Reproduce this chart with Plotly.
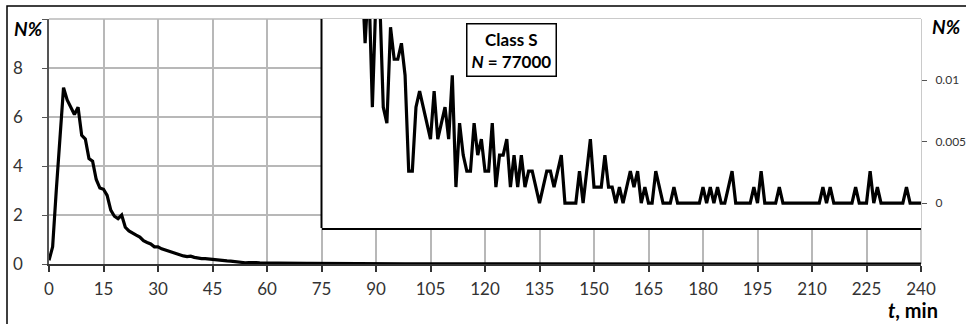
import plotly.graph_objects as go

# Share of the class-S population (N = 77000) registered per minute.
TOTAL = 77000

# First 75 minutes, in percent
minutes_early = list(range(0, 75))
share_early = [
    0.15, 0.7, 3.0, 5.1, 7.2, 6.7, 6.4, 6.1, 6.4, 5.25,
    5.1, 4.3, 4.2, 3.45, 3.1, 3.05, 2.8, 2.2, 1.95, 1.85,
    2.0, 1.5, 1.35, 1.25, 1.18, 1.1, 0.95, 0.88, 0.82, 0.7,
    0.7, 0.62, 0.57, 0.5, 0.48, 0.42, 0.36, 0.33, 0.3, 0.32,
    0.27, 0.24, 0.22, 0.22, 0.2, 0.2, 0.17, 0.14, 0.15, 0.13,
    0.12, 0.1, 0.09, 0.07, 0.05, 0.06, 0.07, 0.06, 0.05, 0.04,
    0.04, 0.04, 0.035, 0.04, 0.035, 0.03, 0.035, 0.03, 0.04, 0.03,
    0.035, 0.03, 0.03, 0.03, 0.035,
]

# Minutes 75..240, as raw counts
minutes_late = list(range(75, 241))
counts_late = [
    26, 22, 25, 20, 22, 19, 18, 20, 16, 17,
    15, 15, 10, 14, 6, 13, 13, 6, 5, 11,
    9, 9, 10, 8, 2, 2, 6, 7, 6, 5,
    4, 7, 4, 5, 6, 4, 8, 1, 5, 3,
    2, 2, 5, 3, 4, 2, 2, 5, 1, 3,
    3, 4, 1, 3, 1, 3, 1, 2, 2, 1,
    0, 1, 2, 2, 1, 2, 3, 0, 0, 0,
    0, 2, 0, 2, 4, 1, 1, 1, 3, 1,
    1, 0, 1, 0, 1, 2, 1, 2, 0, 1,
    0, 0, 2, 1, 0, 0, 0, 1, 0, 0,
    0, 0, 0, 0, 0, 1, 0, 1, 0, 1,
    0, 0, 1, 2, 0, 0, 0, 0, 0, 1,
    0, 2, 0, 0, 0, 0, 1, 0, 0, 0,
    0, 0, 0, 0, 0, 0, 0, 0, 1, 0,
    1, 0, 0, 0, 0, 0, 0, 1, 0, 0,
    0, 2, 0, 1, 0, 0, 0, 0, 0, 0,
    0, 1, 0, 0, 0, 0,
]
share_late = [c * 100.0 / TOTAL for c in counts_late]

x_ticks = list(range(0, 241, 15))
y_ticks = [0, 2, 4, 6, 8, 10]
y_tick_text = ["0", "2", "4", "6", "8", ""]
y2_ticks = [0, 0.005, 0.01]
y2_tick_text = ["0", "0.005", "0.01"]

FONT = "Lato"
GRID = "#b8b8b8"
TEXT = "#333333"

fig = go.Figure()

# Full distribution on the main axes
fig.add_trace(go.Scatter(
    x=minutes_early + minutes_late,
    y=share_early + share_late,
    mode="lines",
    line=dict(color="black", width=3.2),
    xaxis="x", yaxis="y",
    showlegend=False,
))

# Tail magnified on the inset axes
fig.add_trace(go.Scatter(
    x=minutes_late,
    y=share_late,
    mode="lines",
    line=dict(color="black", width=3.2),
    xaxis="x2", yaxis="y2",
    showlegend=False,
))

W, H = 966, 324
L, R, T, B = 49, 45, 19, 60
pw, ph = W - L - R, H - T - B


def px(x):
    return (x - L) / pw


def py(y):
    return (H - B - y) / ph


fig.update_layout(
    width=W, height=H,
    margin=dict(l=L, r=R, t=T, b=B, pad=0, autoexpand=False),
    paper_bgcolor="white",
    plot_bgcolor="white",
    font=dict(family=FONT, size=17, color=TEXT),
    xaxis=dict(
        domain=[0, 1], range=[0, 240], automargin=False,
        tickmode="array", tickvals=x_ticks,
        showgrid=True, gridcolor=GRID, gridwidth=1.5,
        showline=True, linecolor="#333333", linewidth=2,
        ticks="outside", ticklen=6, tickcolor="#333333", tickwidth=1.5,
        ticklabelstandoff=3,
        zeroline=False,
    ),
    yaxis=dict(
        domain=[0, 1], range=[0, 10], automargin=False,
        tickmode="array", tickvals=y_ticks, ticktext=y_tick_text,
        showgrid=True, gridcolor=GRID, gridwidth=1.5,
        showline=True, linecolor="#555555", linewidth=1.5,
        ticks="outside", ticklen=5, tickcolor="#555555",
        ticklabelstandoff=16,
        zeroline=False,
    ),
    xaxis2=dict(
        domain=[75 / 240, 1], range=[75, 240], anchor="y2", automargin=False,
        showgrid=False, showticklabels=False, ticks="",
        showline=True, linecolor="black", linewidth=2,
        zeroline=False,
    ),
    yaxis2=dict(
        domain=[(264 - 228) / ph, 1], range=[-0.00203, 0.01496],
        anchor="x2", side="right", automargin=False,
        tickmode="array", tickvals=y2_ticks, ticktext=y2_tick_text,
        showgrid=False, showline=False,
        ticks="outside", ticklen=5, tickcolor="#555555",
        ticklabelstandoff=6,
        tickfont=dict(size=12, color=TEXT),
        zeroline=False,
    ),
    shapes=[
        # top and right edges of the main plot area
        dict(type="line", xref="x domain", yref="y domain", layer="below",
             x0=0, x1=1, y0=1, y1=1, line=dict(color=GRID, width=1.5)),
        dict(type="line", xref="x domain", yref="y domain", layer="below",
             x0=1, x1=1, y0=0, y1=1, line=dict(color=GRID, width=1.5)),
        # left edge of the inset
        dict(type="line", xref="x2 domain", yref="y2 domain",
             x0=0, x1=0, y0=0, y1=1, line=dict(color="black", width=2)),
        # outer chart frame
        dict(type="rect", xref="paper", yref="paper",
             x0=px(7), x1=px(1200), y0=py(6), y1=py(600),
             line=dict(color="black", width=1.5)),
    ],
    annotations=[
        dict(text="<b><i>N%</i></b>", xref="paper", yref="paper",
             x=px(28), y=py(28), xanchor="center", yanchor="middle",
             showarrow=False, font=dict(size=19, color="black")),
        dict(text="<b><i>N%</i></b>", xref="paper", yref="paper",
             x=px(946), y=py(26), xanchor="center", yanchor="middle",
             showarrow=False, font=dict(size=19, color="black")),
        dict(text="<b><i>t</i>, min</b>", xref="paper", yref="paper",
             x=px(913), y=py(310), xanchor="center", yanchor="middle",
             showarrow=False, font=dict(size=20, color="black")),
        dict(text="<b>Class S</b><br><b><i>N</i> = 77000</b>",
             xref="paper", yref="paper",
             x=px(511), y=py(50), xanchor="center", yanchor="middle",
             showarrow=False, align="center",
             font=dict(size=17, color="black"),
             bgcolor="white", bordercolor="black", borderwidth=1.5,
             borderpad=4),
    ],
)

fig.write_html("out.html")
